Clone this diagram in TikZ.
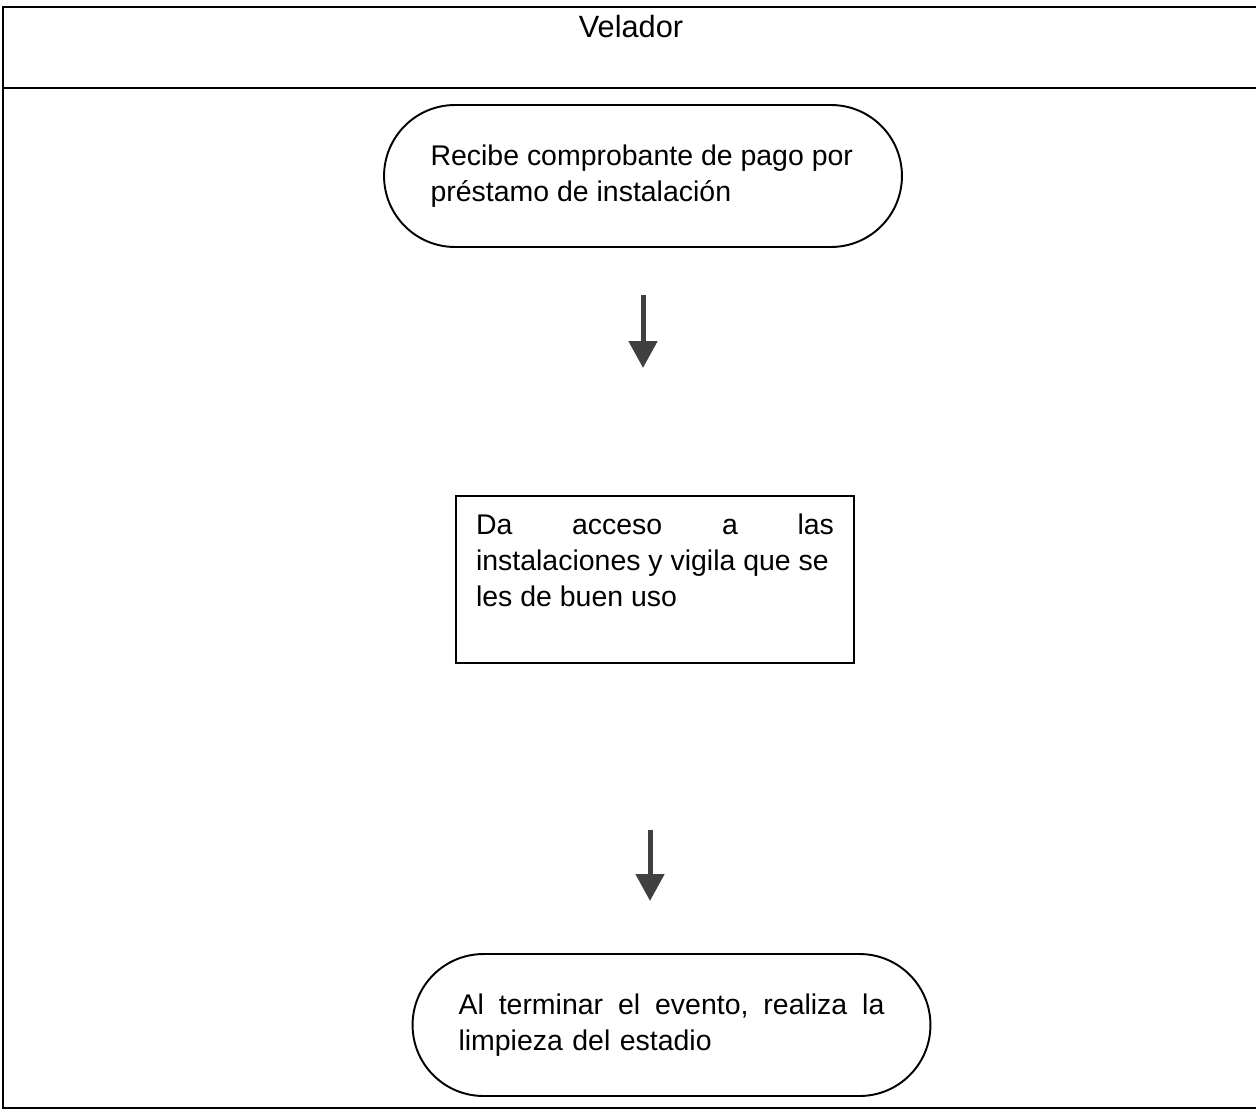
\documentclass[tikz,border=0pt]{standalone}
\usepackage{fontspec}
\setmainfont{Liberation Sans}
\usepackage{tikz}
\definecolor{arrowgray}{HTML}{404040}
\usetikzlibrary{arrows.meta,positioning}

\begin{document}
\begin{tikzpicture}[
  x=0.02cm,y=-0.02cm,
  term/.style={rectangle,draw,line width=1.1pt,rounded corners=1.42cm,
               minimum width=10.36cm,minimum height=2.84cm,inner sep=0pt,
               align=left,font=\fontsize{16.2}{20.5}\selectfont},
  proc/.style={rectangle,draw,line width=1.1pt,inner xsep=0.4cm,inner ysep=0.36cm,
               font=\fontsize{16.2}{20.5}\selectfont},
  arr/.style={-{Triangle[length=0.54cm,width=0.56cm]},color=arrowgray,line width=0.1cm}]
  \useasboundingbox (0,0) rectangle (1256,1111);
  \draw[line width=1.1pt] (3,7) rectangle (1262,1108);
  \draw[line width=1.1pt] (3,88) -- (1262,88);
  \node[font=\fontsize{17.5}{21}\selectfont] (lane) at (631,27) {Velador};
  \node[term] (n1) at (643,176)
    {\parbox[c]{8.5cm}{\raggedright Recibe comprobante de pago por\\préstamo de instalación}};
  \node[proc] (n2) at (655,579.5)
    {\parbox[c][2.62cm][t]{7.16cm}{Da\hfill acceso\hfill a\hfill las\\instalaciones y vigila que se\\les de buen uso}};
  \node[term,text width=8.52cm] (n3) at (671.5,1025)
    {Al\hfill terminar\hfill el\hfill evento,\hfill realiza\hfill la\\limpieza del estadio};
  \coordinate (a1) at (643,295);
  \coordinate (b1) at (643,368);
  \coordinate (a2) at (650,830);
  \coordinate (b2) at (650,901);
  \draw[arr] (a1) -- (b1);
  \draw[arr] (a2) -- (b2);
\end{tikzpicture}
\end{document}
